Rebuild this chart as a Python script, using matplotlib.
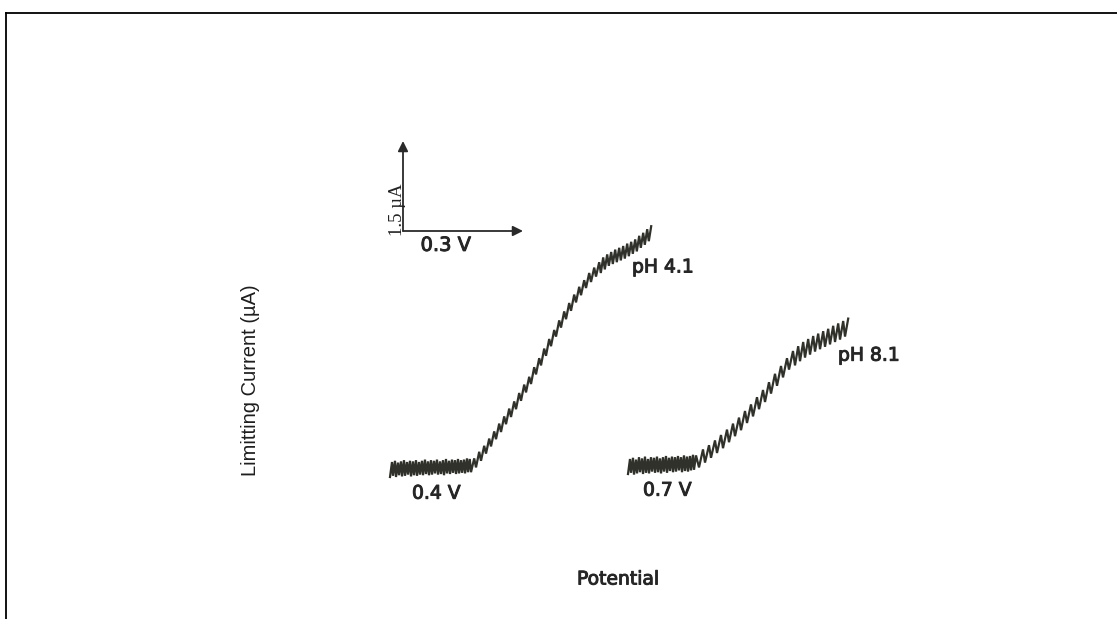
import numpy as np
import matplotlib
matplotlib.use("Agg")
import matplotlib.pyplot as plt
from matplotlib.lines import Line2D
from matplotlib import patheffects

# ---- Polarographic wave at pH 4.1 (pen trace: lower and upper turning points) ----
ph41_v_low = [0.025, 0.0325, 0.04, 0.0475, 0.055, 0.0625, 0.07, 0.0775, 0.085, 0.0925,
              0.1, 0.1075, 0.115, 0.1225, 0.13, 0.1375, 0.145, 0.1525, 0.16, 0.1675,
              0.175, 0.1825, 0.19, 0.1975, 0.205, 0.2125, 0.22,
              0.2275, 0.24, 0.2525, 0.265, 0.2775, 0.29, 0.3025, 0.315, 0.3275, 0.34,
              0.3525, 0.365, 0.3775, 0.39, 0.4025, 0.415, 0.4275, 0.44, 0.4525, 0.465,
              0.4775, 0.49, 0.5025, 0.515, 0.5275, 0.54,
              0.552, 0.562, 0.572, 0.582, 0.592, 0.602, 0.612, 0.622, 0.632, 0.642,
              0.652, 0.662, 0.672]
ph41_i_low = [0.05, 0.07, 0.05, 0.08, 0.06, 0.07, 0.09, 0.06, 0.08, 0.07,
              0.09, 0.08, 0.10, 0.08, 0.09, 0.11, 0.09, 0.10, 0.08, 0.11,
              0.10, 0.12, 0.10, 0.11, 0.12, 0.11, 0.13,
              0.13, 0.21, 0.32, 0.44, 0.56, 0.68, 0.80, 0.93, 1.05, 1.18,
              1.32, 1.46, 1.60, 1.76, 1.91, 2.07, 2.23, 2.39, 2.54, 2.68,
              2.82, 2.96, 3.08, 3.20, 3.30, 3.39,
              3.45, 3.51, 3.57, 3.60, 3.63, 3.66, 3.69, 3.73, 3.77, 3.81,
              3.87, 3.92, 3.98]
ph41_v_high = [0.03, 0.0375, 0.045, 0.0525, 0.06, 0.0675, 0.075, 0.0825, 0.09, 0.0975,
               0.105, 0.1125, 0.12, 0.1275, 0.135, 0.1425, 0.15, 0.1575, 0.165, 0.1725,
               0.18, 0.1875, 0.195, 0.2025, 0.21, 0.2175, 0.2245,
               0.2355, 0.248, 0.2605, 0.273, 0.2855, 0.298, 0.3105, 0.323, 0.3355, 0.348,
               0.3605, 0.373, 0.3855, 0.398, 0.4105, 0.423, 0.4355, 0.448, 0.4605, 0.473,
               0.4855, 0.498, 0.5105, 0.523, 0.5355, 0.548,
               0.558, 0.568, 0.578, 0.588, 0.598, 0.608, 0.618, 0.628, 0.638, 0.648,
               0.658, 0.668, 0.678]
ph41_i_high = [0.30, 0.32, 0.29, 0.31, 0.33, 0.30, 0.32, 0.31, 0.33, 0.30,
               0.32, 0.34, 0.31, 0.33, 0.32, 0.34, 0.31, 0.33, 0.35, 0.32,
               0.34, 0.33, 0.35, 0.33, 0.34, 0.36, 0.35,
               0.36, 0.47, 0.57, 0.69, 0.81, 0.94, 1.06, 1.19, 1.31, 1.45,
               1.59, 1.72, 1.88, 2.03, 2.19, 2.35, 2.50, 2.66, 2.81, 2.95,
               3.09, 3.22, 3.33, 3.45, 3.54, 3.63,
               3.71, 3.76, 3.80, 3.84, 3.87, 3.90, 3.94, 3.97, 4.01, 4.07,
               4.12, 4.18, 4.23]

# ---- Polarographic wave at pH 8.1 ----
ph81_v_low = [0.62, 0.6275, 0.635, 0.6425, 0.65, 0.6575, 0.665, 0.6725, 0.68, 0.6875,
              0.695, 0.7025, 0.71, 0.7175, 0.725, 0.7325, 0.74, 0.7475, 0.755, 0.7625,
              0.77, 0.7775, 0.785,
              0.7975, 0.8125, 0.8275, 0.8425, 0.8575, 0.8725, 0.8875, 0.9025, 0.9175,
              0.9325, 0.9475, 0.9625, 0.9775, 0.9925, 1.0075, 1.0225,
              1.0375, 1.05, 1.0625, 1.075, 1.0875, 1.10, 1.1125, 1.125, 1.1375, 1.15, 1.1625]
ph81_i_low = [0.10, 0.12, 0.09, 0.11, 0.13, 0.10, 0.12, 0.11, 0.14, 0.12,
              0.13, 0.11, 0.14, 0.12, 0.15, 0.13, 0.14, 0.16, 0.13, 0.15,
              0.14, 0.16, 0.17,
              0.21, 0.29, 0.37, 0.45, 0.53, 0.63, 0.73, 0.83, 0.95,
              1.06, 1.18, 1.30, 1.44, 1.57, 1.71, 1.84,
              1.91, 1.98, 2.04, 2.09, 2.14, 2.18, 2.22, 2.26, 2.30, 2.34, 2.39]
ph81_v_high = [0.625, 0.6325, 0.64, 0.6475, 0.655, 0.6625, 0.67, 0.6775, 0.685, 0.6925,
               0.70, 0.7075, 0.715, 0.7225, 0.73, 0.7375, 0.745, 0.7525, 0.76, 0.7675,
               0.775, 0.7825, 0.79,
               0.8075, 0.8225, 0.8375, 0.8525, 0.8675, 0.8825, 0.8975, 0.9125, 0.9275,
               0.9425, 0.9575, 0.9725, 0.9875, 1.0025, 1.0175, 1.0325,
               1.0455, 1.058, 1.0705, 1.083, 1.0955, 1.108, 1.1205, 1.133, 1.1455, 1.158, 1.1705]
ph81_i_high = [0.35, 0.37, 0.34, 0.38, 0.36, 0.39, 0.35, 0.38, 0.37, 0.39,
               0.36, 0.38, 0.40, 0.37, 0.39, 0.38, 0.40, 0.38, 0.41, 0.39,
               0.40, 0.42, 0.41,
               0.51, 0.58, 0.66, 0.75, 0.84, 0.94, 1.04, 1.15, 1.26,
               1.38, 1.50, 1.63, 1.77, 1.90, 2.03, 2.15,
               2.23, 2.30, 2.35, 2.40, 2.44, 2.48, 2.52, 2.57, 2.61, 2.65, 2.69]

# Scale bar: 0.3 V horizontal, 1.5 uA vertical
scale_origin = (0.0575, 4.15)
scale_dv = 0.3
scale_di = 1.5

wave_labels = ["pH 4.1", "pH 8.1"]
onset_labels = ["0.4 V", "0.7 V"]


def zigzag(v_low, i_low, v_high, i_high):
    v = np.column_stack([v_low, v_high]).ravel()
    i = np.column_stack([i_low, i_high]).ravel()
    return v, i


fig = plt.figure(figsize=(11.17, 6.19), dpi=100)
ax = fig.add_axes([0, 0, 1, 1])
ax.set_xlim(-0.95, 1.8425)
ax.set_ylim(-2.3167, 8.0)
ax.axis("off")

trace_color = "#262620"
for vl, il, vh, ih in [(ph41_v_low, ph41_i_low, ph41_v_high, ph41_i_high),
                       (ph81_v_low, ph81_i_low, ph81_v_high, ph81_i_high)]:
    v, i = zigzag(vl, il, vh, ih)
    ax.plot(v, i, color=trace_color, lw=1.6, solid_joinstyle="miter", alpha=0.95)

text_color = "#262626"
heavy = [patheffects.withStroke(linewidth=0.7, foreground=text_color)]

# scale bar arrows
x0, y0 = scale_origin
arrow_kw = dict(arrowstyle="-|>", color="#2a2a2a", lw=1.3,
                mutation_scale=15, shrinkA=0, shrinkB=0)
ax.annotate("", xy=(x0, y0 + scale_di), xytext=(x0, y0), arrowprops=arrow_kw)
ax.annotate("", xy=(x0 + scale_dv, y0), xytext=(x0, y0), arrowprops=arrow_kw)
ax.text(x0 - 0.013, y0 + 0.36, "1.5 µA", rotation=90, ha="center", va="center",
        family="Liberation Serif", fontsize=13.5, color="#222222")
ax.text(x0 + 0.107, y0 - 0.24, "0.3 V", ha="center", va="center",
        family="DejaVu Sans", fontsize=14, color=text_color, path_effects=heavy)

# wave labels
label_kw = dict(family="DejaVu Sans", fontsize=13.5, color=text_color,
                ha="left", va="center", path_effects=heavy)
ax.text(0.63, 3.55, wave_labels[0], **label_kw)
ax.text(1.145, 2.08, wave_labels[1], **label_kw)
ax.text(0.08, -0.22, onset_labels[0], **label_kw)
ax.text(0.6575, -0.17, onset_labels[1], **label_kw)

# axis titles
ax.text(-0.3225, 1.667, "Limitting Current (µA)", rotation=90, ha="center",
        va="center", family="Liberation Sans", fontsize=14.5, color="#1e1e1e")
ax.text(0.595, -1.65, "Potential", ha="center", va="center",
        family="DejaVu Sans", fontsize=13.5, color=text_color, path_effects=heavy)

# frame lines along the top and left edges
W, H = 1117, 619
fig.add_artist(Line2D([5.5 / W, 5.5 / W], [0, 1 - 12.5 / H], color="black",
                      lw=1.3, transform=fig.transFigure))
fig.add_artist(Line2D([5.5 / W, 1], [1 - 12.5 / H, 1 - 12.5 / H], color="black",
                      lw=1.3, transform=fig.transFigure))

fig.savefig("out.png", dpi=100)
